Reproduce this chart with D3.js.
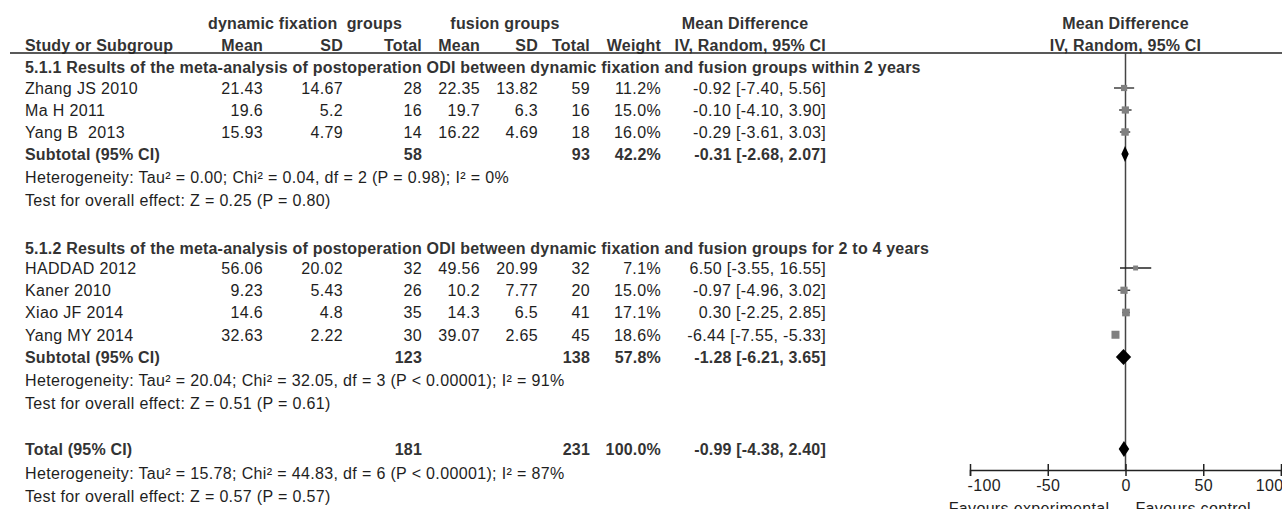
<!DOCTYPE html>
<html><head><meta charset="utf-8">
<script src="https://cdn.jsdelivr.net/npm/d3@7"></script>
<style>
html,body{margin:0;padding:0;background:#fff;}
svg{display:block;font-family:"Liberation Sans",Arial,sans-serif;}
text{white-space:pre;}
</style></head><body>
<svg id="c" width="1282" height="509"></svg>
<script>
// ---------- DATA ----------
const subgroupTitles = [
  "5.1.1 Results of the meta-analysis of postoperation ODI between dynamic fixation and fusion groups within 2 years",
  "5.1.2 Results of the meta-analysis of postoperation ODI between dynamic fixation and fusion groups for 2 to 4 years"
];
const studyNames = ["Zhang JS 2010","Ma H 2011","Yang B  2013","HADDAD 2012","Kaner 2010","Xiao JF 2014","Yang MY 2014"];
const studyGroup = [0,0,0,1,1,1,1];
const expMean = [21.43,19.6,15.93,56.06,9.23,14.6,32.63];
const expSD   = [14.67,5.2,4.79,20.02,5.43,4.8,2.22];
const expN    = [28,16,14,32,26,35,30];
const ctlMean = [22.35,19.7,16.22,49.56,10.2,14.3,39.07];
const ctlSD   = [13.82,6.3,4.69,20.99,7.77,6.5,2.65];
const ctlN    = [59,16,18,32,20,41,45];
const weight  = [11.2,15.0,16.0,7.1,15.0,17.1,18.6];
const md      = [-0.92,-0.10,-0.29,6.50,-0.97,0.30,-6.44];
const ciLo    = [-7.40,-4.10,-3.61,-3.55,-4.96,-2.25,-7.55];
const ciHi    = [5.56,3.90,3.03,16.55,3.02,2.85,-5.33];

const pooledLabels = ["Subtotal (95% CI)","Subtotal (95% CI)","Total (95% CI)"];
const pooledExpN   = [58,123,181];
const pooledCtlN   = [93,138,231];
const pooledWeight = [42.2,57.8,100.0];
const pooledMD     = [-0.31,-1.28,-0.99];
const pooledLo     = [-2.68,-6.21,-4.38];
const pooledHi     = [2.07,3.65,2.40];
const heterogeneity = [
  "Heterogeneity: Tau\u00B2 = 0.00; Chi\u00B2 = 0.04, df = 2 (P = 0.98); I\u00B2 = 0%",
  "Heterogeneity: Tau\u00B2 = 20.04; Chi\u00B2 = 32.05, df = 3 (P < 0.00001); I\u00B2 = 91%",
  "Heterogeneity: Tau\u00B2 = 15.78; Chi\u00B2 = 44.83, df = 6 (P < 0.00001); I\u00B2 = 87%"
];
const overallTest = [
  "Test for overall effect: Z = 0.25 (P = 0.80)",
  "Test for overall effect: Z = 0.51 (P = 0.61)",
  "Test for overall effect: Z = 0.57 (P = 0.57)"
];
const groupHeaders = ["dynamic fixation  groups","fusion groups","Mean Difference"];
const columnHeaders = ["Study or Subgroup","Mean","SD","Total","Mean","SD","Total","Weight","IV, Random, 95% CI"];
const plotHeaders = ["Mean Difference","IV, Random, 95% CI"];
const tickValues = [-100,-50,0,50,100];
const favourLabels = ["Favours experimental","Favours control"];

// ---------- LAYOUT ----------
const svg = d3.select("#c");
const FS = 16;
const txtCol = "#1e1e1e", boldCol = "#333";
// row index -> y (centre of row)
const y = d3.scaleLinear()
  .domain([0,1,4,5,6,8,9,13,14,15,17,18,19])
  .range([67,88,154,177,200,248,268,357,380,403,449,473,496]);
const x = d3.scaleLinear().domain([-100,100]).range([970,1281]);
const sq = d3.scaleSqrt().domain([0,d3.max(weight)]).range([0,8]);
// column right edges
const colX = [25,263,343,422,480,538,590,661,826];
const colAnchor = ["start","end","end","end","end","end","end","end","end"];

function txt(xp, yc, s, opts={}) {
  return svg.append("text").attr("x",xp).attr("y",yc).attr("dy","0.36em")
    .attr("font-size",opts.fs||FS)
    .attr("font-weight",opts.bold?"bold":"normal")
    .attr("letter-spacing",opts.bold?"0.2px":"0.35px")
    .attr("fill",opts.bold?boldCol:txtCol)
    .attr("text-anchor",opts.anchor||"start")
    .text(s);
}

// headers
txt(305,23,groupHeaders[0],{bold:true,anchor:"middle"});
txt(505,23,groupHeaders[1],{bold:true,anchor:"middle"});
txt(745,23,groupHeaders[2],{bold:true,anchor:"middle"});
columnHeaders.forEach((h,i)=>txt(colX[i],45,h,{bold:true,anchor:colAnchor[i]}));
txt(x(0),23,plotHeaders[0],{bold:true,anchor:"middle"});
txt(x(0),45,plotHeaders[1],{bold:true,anchor:"middle"});
svg.append("line").attr("x1",10).attr("x2",1282).attr("y1",53).attr("y2",53)
  .attr("stroke","#222").attr("stroke-width",1.5);

// row assignment
const groupStart = [0,8];
const studyRow = studyNames.map((d,i)=>{
  const g = studyGroup[i];
  const k = studyGroup.slice(0,i).filter(v=>v===g).length;
  return groupStart[g]+1+k;
});
const pooledRow = [4,13,17];
const hetRow = [5,14,18];
const testRow = [6,15,19];

subgroupTitles.forEach((t,g)=>txt(25,y(groupStart[g]),t,{bold:true}));

// zero line
svg.append("line").attr("x1",x(0)).attr("x2",x(0)).attr("y1",53).attr("y2",470)
  .attr("stroke","#444").attr("stroke-width",1.5);

// studies
studyNames.forEach((n,i)=>{
  const yc = y(studyRow[i]);
  const vals = [n, String(expMean[i]), String(expSD[i]), String(expN[i]),
    String(ctlMean[i]), String(ctlSD[i]), String(ctlN[i]), weight[i].toFixed(1)+"%",
    md[i].toFixed(2)+" ["+ciLo[i].toFixed(2)+", "+ciHi[i].toFixed(2)+"]"];
  vals.forEach((v,j)=>txt(colX[j],yc,v,{anchor:colAnchor[j]}));
  svg.append("line").attr("x1",x(ciLo[i])).attr("x2",x(ciHi[i])).attr("y1",yc).attr("y2",yc)
    .attr("stroke","#222").attr("stroke-width",1.3);
  const s = sq(weight[i]);
  svg.append("rect").attr("x",x(md[i])-s/2).attr("y",yc-s/2).attr("width",s).attr("height",s)
    .attr("fill","#808080");
});

// pooled rows
pooledLabels.forEach((l,i)=>{
  const yc = y(pooledRow[i]);
  txt(colX[0],yc,l,{bold:true});
  txt(colX[3],yc,String(pooledExpN[i]),{bold:true,anchor:"end"});
  txt(colX[6],yc,String(pooledCtlN[i]),{bold:true,anchor:"end"});
  txt(colX[7],yc,pooledWeight[i].toFixed(1)+"%",{bold:true,anchor:"end"});
  txt(colX[8],yc,pooledMD[i].toFixed(2)+" ["+pooledLo[i].toFixed(2)+", "+pooledHi[i].toFixed(2)+"]",{bold:true,anchor:"end"});
  const h = 8;
  svg.append("path").attr("d",`M${x(pooledLo[i])},${yc}L${x(pooledMD[i])},${yc-h}L${x(pooledHi[i])},${yc}L${x(pooledMD[i])},${yc+h}Z`)
    .attr("fill","#000");
  txt(25,y(hetRow[i]),heterogeneity[i]);
  txt(25,y(testRow[i]),overallTest[i]);
});

// axis
const axisG = svg.append("g").attr("transform","translate(0,470)")
  .call(d3.axisBottom(x).tickValues(tickValues).tickSize(6).tickPadding(4).tickFormat(d => String(d)));
axisG.select(".domain").attr("stroke","#222").attr("stroke-width",1.5);
axisG.selectAll(".tick line").attr("y1",-6).attr("y2",6).attr("stroke","#222").attr("stroke-width",1.5);
axisG.selectAll(".tick text").attr("font-size",FS).attr("font-family","'Liberation Sans',Arial,sans-serif")
  .attr("fill",txtCol).attr("letter-spacing","0.35px")
  .attr("text-anchor",(d,i)=> i===0?"start":(i===tickValues.length-1?"end":"middle"))
  .attr("dx",(d,i)=> i===0?"-3":(i===tickValues.length-1?"2":"0"));
txt(x(0)-16,508,favourLabels[0],{anchor:"end"});
txt(x(0)+10,508,favourLabels[1],{anchor:"start"});
</script></body></html>
